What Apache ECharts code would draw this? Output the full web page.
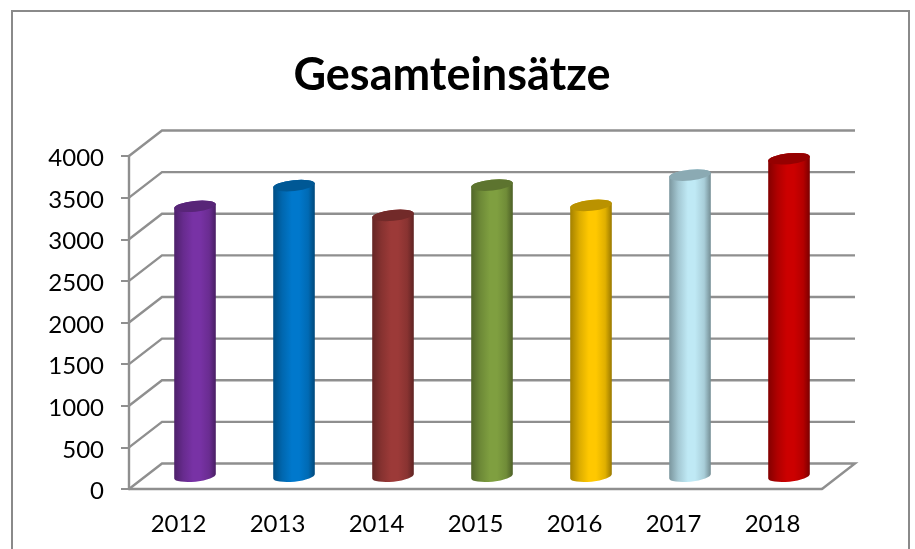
<!DOCTYPE html>
<html>
<head>
<meta charset="utf-8">
<title>Gesamteinsätze</title>
<style>
html, body { margin: 0; padding: 0; background: #fff; }
#chart { width: 915px; height: 549px; }
</style>
<script src="https://cdn.jsdelivr.net/npm/echarts@6/dist/echarts.min.js"></script>
</head>
<body>
<div id="chart"></div>
<script>
var years = ['2012', '2013', '2014', '2015', '2016', '2017', '2018']
var einsaetze = [3243, 3492, 3133, 3498, 3253, 3618, 3814]
var yTicks = [0, 500, 1000, 1500, 2000, 2500, 3000, 3500, 4000]
var barColors = ['#7832a5', '#0078cc', '#9c3a38', '#7f9f40', '#ffc800', '#bfe9f5', '#cc0000']

// fake 3d: back wall is the front plane shifted by this much
var depthX = 33
var depthY = -25.5
var lineGrey = '#8f8f8f'

var myChart = echarts.init(document.getElementById('chart'), null, {renderer: 'canvas'})

function shade(color, k) {
	return echarts.color.lerp(k, [color, '#000000'])
}

function renderWall(params, api) {
	var cs = params.coordSys
	var y = api.coord([0, api.value(1)])[1]
	var pts = [[cs.x, y], [cs.x + depthX, y + depthY], [cs.x + cs.width + depthX, y + depthY]]
	// floor gets the closing edge on the right
	if (api.value(1) === 0) pts.push([cs.x + cs.width, y])
	return {
		type: 'polyline',
		shape: {points: pts},
		style: {stroke: lineGrey, lineWidth: 2.4, fill: null}
	}
}

function renderBar(params, api) {
	var top = api.coord([api.value(0), api.value(1)])
	var base = api.coord([api.value(0), 0])
	var rx = api.size([1, 0])[0] * 0.21
	var ry = 5.4
	var tilt = 2.2 // ellipses lean a little, left side low
	var cx = top[0] + depthX / 2
	var l = cx - rx
	var r = cx + rx
	var yt = top[1] + depthY / 2
	var yb = base[1] + depthY / 2
	var color = barColors[params.dataIndex]
	var arc = 'A' + rx + ' ' + ry + ' -6 0 0 '
	var body = 'M' + l + ' ' + (yt + tilt) + 'L' + l + ' ' + (yb + tilt) + arc + r + ' ' + (yb - tilt) +
		'L' + r + ' ' + (yt - tilt) + arc + l + ' ' + (yt + tilt) + 'Z'
	var cap = 'M' + l + ' ' + (yt + tilt) + arc + r + ' ' + (yt - tilt) + arc + l + ' ' + (yt + tilt) + 'Z'
	return {
		type: 'group',
		children: [{
			type: 'path',
			shape: {pathData: body},
			style: {
				fill: new echarts.graphic.LinearGradient(0, 0, 1, 0, [
					{offset: 0, color: shade(color, 0.36)},
					{offset: 0.22, color: shade(color, 0.14)},
					{offset: 0.45, color: color},
					{offset: 0.62, color: color},
					{offset: 0.84, color: shade(color, 0.12)},
					{offset: 1, color: shade(color, 0.4)}
				])
			}
		}, {
			type: 'path',
			shape: {pathData: cap},
			style: {fill: shade(color, 0.27)}
		}]
	}
}

var option = {
	animation: false,
	backgroundColor: '#fff',
	title: {
		text: 'Gesamteinsätze',
		left: 447,
		top: 48,
		textAlign: 'center',
		textStyle: {fontFamily: 'Lato', fontSize: 45, fontWeight: 'bold', color: '#000'}
	},
	grid: {left: 129, right: 93, top: 156, bottom: 60},
	graphic: [{
		type: 'polyline',
		silent: true,
		shape: {points: [[12, 549], [12, 11], [909, 11], [909, 549]]},
		style: {stroke: '#8a8a8a', lineWidth: 2, fill: null}
	}],
	xAxis: {
		type: 'category',
		data: years,
		axisLine: {lineStyle: {color: lineGrey, width: 2.4}},
		axisTick: {length: 8, lineStyle: {color: lineGrey, width: 2}},
		axisLabel: {margin: 23, fontFamily: 'Lato', fontSize: 24, color: '#000'},
		splitLine: {show: false}
	},
	yAxis: {
		type: 'value',
		min: 0,
		max: 4000,
		interval: 500,
		axisLine: {show: true, lineStyle: {color: lineGrey, width: 2.4}},
		axisTick: {show: true, length: 8, lineStyle: {color: lineGrey, width: 2}},
		axisLabel: {
			margin: 25, fontFamily: 'Lato', fontSize: 24, color: '#000',
			verticalAlign: 'top', lineHeight: 5, // nudges the digits down onto the tick
			formatter: function(v) { return String(v) }
		},
		splitLine: {show: false}
	},
	series: [{
		type: 'custom',
		silent: true,
		z: 1,
		renderItem: renderWall,
		data: yTicks.map(function(v) { return [0, v] })
	}, {
		type: 'custom',
		silent: true,
		z: 3,
		renderItem: renderBar,
		data: einsaetze.map(function(v, i) { return [i, v] })
	}]
}

myChart.setOption(option)
</script>
</body>
</html>
